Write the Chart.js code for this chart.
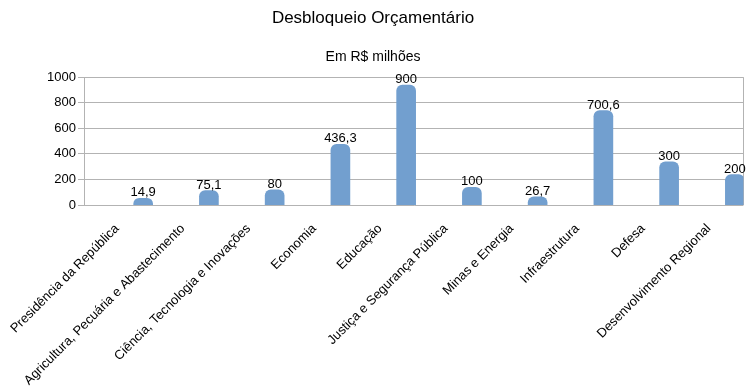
<!DOCTYPE html>
<html>
<head>
<meta charset="utf-8">
<script src="https://cdn.jsdelivr.net/npm/chart.js@4/dist/chart.umd.min.js"></script>
<style>
html,body{margin:0;padding:0;background:#fff;}
#wrap{width:754px;height:392px;position:relative;}
</style>
</head>
<body>
<div id="wrap"><canvas id="c" width="754" height="392"></canvas></div>
<script>
const categories = [
  "Presidência da República",
  "Agricultura, Pecuária e Abastecimento",
  "Ciência, Tecnologia e Inovações",
  "Economia",
  "Educação",
  "Justiça e Segurança Pública",
  "Minas e Energia",
  "Infraestrutura",
  "Defesa",
  "Desenvolvimento Regional"
];
const values = [14.9, 75.1, 80, 436.3, 900, 100, 26.7, 700.6, 300, 200];
const yTicks = [0, 200, 400, 600, 800, 1000];

const FONT = "'Liberation Sans', Arial, sans-serif";
const CAP = 38; // cylinder cap extension in value units (~5px)

const dataLabels = {
  id: 'dataLabels',
  afterDatasetsDraw(chart) {
    const ctx = chart.ctx;
    const meta = chart.getDatasetMeta(0);
    ctx.save();
    ctx.font = "13px " + FONT;
    ctx.fillStyle = "#000";
    ctx.textAlign = "center";
    ctx.textBaseline = "bottom";
    meta.data.forEach((el, i) => {
      ctx.fillText(values[i].toLocaleString('pt-BR'), el.x, el.y + 1);
    });
    ctx.restore();
  }
};
const rightEdge = {
  id: 'rightEdge',
  beforeDatasetsDraw(chart) {
    const {ctx, chartArea} = chart;
    ctx.save();
    ctx.strokeStyle = "#b3b3b3";
    ctx.lineWidth = 1;
    ctx.beginPath();
    ctx.moveTo(Math.round(chartArea.right) + 0.5, chartArea.top);
    ctx.lineTo(Math.round(chartArea.right) + 0.5, chartArea.bottom);
    ctx.stroke();
    ctx.restore();
  }
};

new Chart(document.getElementById('c'), {
  type: 'bar',
  data: {
    datasets: [{
      data: values.map((v, i) => ({x: i, y: v})),
      backgroundColor: '#729fcf',
      borderWidth: 0,
      borderRadius: 6,
      borderSkipped: false,
      barThickness: 19,
      base: -2 * CAP,
      yAxisID: 'y2'
    }]
  },
  options: {
    responsive: false,
    animation: false,
    layout: {padding: {left: 0, right: 8, top: 6, bottom: 0}},
    plugins: {
      legend: {display: false},
      tooltip: {enabled: false},
      title: {
        display: true,
        text: 'Desbloqueio Orçamentário',
        color: '#000',
        font: {family: FONT, size: 17, weight: 'normal'},
        padding: {top: 2, bottom: 20}
      },
      subtitle: {
        display: true,
        text: 'Em R$ milhões',
        color: '#000',
        font: {family: FONT, size: 14, weight: 'normal'},
        padding: {top: 0, bottom: 12}
      }
    },
    scales: {
      x: {
        type: 'linear',
        offset: false,
        min: -0.9,
        max: 9.13,
        afterBuildTicks: s => { s.ticks = categories.map((c, i) => ({value: i})); },
        afterFit: s => { s.height = 187; },
        grid: {display: false},
        border: {display: false},
        ticks: {
          autoSkip: false,
          maxRotation: 45,
          minRotation: 45,
          labelOffset: -26,
          padding: 8,
          color: '#000',
          font: {family: FONT, size: 13},
          callback: (v) => categories[v]
        }
      },
      y: {
        min: 0,
        max: 1000,
        afterBuildTicks: s => { s.ticks = []; for (let v = 0; v <= 1000; v += 100) s.ticks.push({value: v}); },
        afterFit: s => { s.width = 84; },
        grid: {color: '#b3b3b3', tickLength: 6, tickColor: '#b3b3b3'},
        border: {color: '#b3b3b3'},
        ticks: {
          padding: 2,
          color: '#000',
          font: {family: FONT, size: 13},
          callback: v => (yTicks.includes(v) ? String(v) : '')
        }
      },
      y2: {
        display: false,
        min: -CAP,
        max: 1000 - CAP
      }
    }
  },
  plugins: [dataLabels, rightEdge]
});
</script>
</body>
</html>
